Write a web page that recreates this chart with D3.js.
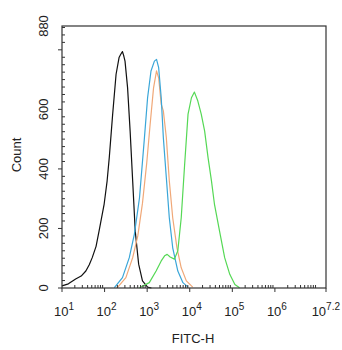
<!DOCTYPE html>
<html>
<head>
<meta charset="utf-8">
<script src="https://cdn.jsdelivr.net/npm/d3@7"></script>
<style>
  body { margin: 0; background: #fff; }
  text { font-family: "Liberation Sans", Arial, sans-serif; fill: #222; }
</style>
</head>
<body>
<svg id="svg" width="342" height="350"></svg>
<script>
// Histogram curves: x as log10(FITC-H), y as count
const blackX = [1.00, 1.15, 1.32, 1.45, 1.56, 1.64, 1.71, 1.80, 1.87, 1.99, 2.06, 2.11, 2.19, 2.27, 2.34, 2.38, 2.42, 2.45, 2.48, 2.54, 2.60, 2.66, 2.72, 2.80, 2.89, 3.01, 3.10];
const blackY = [7, 14, 30, 40, 57, 78, 102, 140, 191, 282, 360, 438, 584, 718, 774, 785, 794, 780, 762, 673, 527, 359, 191, 80, 24, 3, 0];

const blueX = [2.23, 2.42, 2.58, 2.70, 2.82, 2.93, 3.01, 3.09, 3.17, 3.22, 3.27, 3.33, 3.38, 3.45, 3.52, 3.60, 3.72, 3.84, 3.96];
const blueY = [1, 35, 102, 181, 303, 494, 639, 729, 762, 768, 740, 639, 505, 371, 236, 135, 57, 18, 3];

const orangeX = [2.30, 2.50, 2.66, 2.78, 2.89, 2.99, 3.07, 3.15, 3.22, 3.27, 3.33, 3.38, 3.45, 3.52, 3.60, 3.70, 3.80, 3.92, 4.07];
const orangeY = [1, 35, 102, 175, 285, 420, 550, 672, 729, 706, 617, 595, 505, 360, 236, 135, 68, 24, 3];

const greenX = [2.82, 3.05, 3.21, 3.33, 3.41, 3.47, 3.54, 3.64, 3.72, 3.80, 3.88, 3.96, 4.04, 4.11, 4.19, 4.27, 4.35, 4.43, 4.51, 4.58, 4.70, 4.82, 4.94, 5.06, 5.17];
const greenY = [1, 18, 57, 91, 108, 113, 104, 97, 125, 236, 415, 584, 639, 658, 628, 584, 527, 438, 360, 282, 191, 102, 46, 12, 1];

const series = [
  { name: "black", x: blackX, y: blackY, color: "#111111" },
  { name: "orange", x: orangeX, y: orangeY, color: "#f0a878" },
  { name: "blue", x: blueX, y: blueY, color: "#3aa6d8" },
  { name: "green", x: greenX, y: greenY, color: "#55d855" }
];

const xMajor = [1, 2, 3, 4, 5, 6, 7.2];
const xMajorLabels = [["10", "1"], ["10", "2"], ["10", "3"], ["10", "4"], ["10", "5"], ["10", "6"], ["10", "7.2"]];
const yMajor = [0, 200, 400, 600, 800];
const yLabels = [0, 200, 400, 600, 880];

// layout
const plotLeft = 62, plotRight = 326, plotTop = 26, plotBottom = 288;
const svg = d3.select("#svg");

const x = d3.scaleLog().domain([10, Math.pow(10, 7.2)]).range([plotLeft, plotRight]);
const y = d3.scaleLinear().domain([0, 880]).range([plotBottom, plotTop]);

// curves
const line = d3.line()
  .x(d => x(Math.pow(10, d[0])))
  .y(d => y(d[1]));

series.forEach(s => {
  svg.append("path")
    .datum(s.x.map((v, i) => [v, s.y[i]]))
    .attr("fill", "none")
    .attr("stroke", s.color)
    .attr("stroke-width", 1.2)
    .attr("stroke-linejoin", "round")
    .attr("d", line);
});

// frame
svg.append("rect")
  .attr("x", plotLeft).attr("y", plotTop)
  .attr("width", plotRight - plotLeft).attr("height", plotBottom - plotTop)
  .attr("fill", "none").attr("stroke", "#333").attr("stroke-width", 1.2);

// x minor ticks (inside) and major ticks (outside)
const xMinor = x.ticks().filter(v => {
  const l = Math.log10(v);
  return Math.abs(l - Math.round(l)) > 1e-6;
});
svg.selectAll(".xminor").data(xMinor).join("line")
  .attr("x1", d => x(d)).attr("x2", d => x(d))
  .attr("y1", plotBottom).attr("y2", plotBottom - 3)
  .attr("stroke", "#333");

svg.selectAll(".xmajor").data(xMajor).join("line")
  .attr("x1", d => x(Math.pow(10, d))).attr("x2", d => x(Math.pow(10, d)))
  .attr("y1", plotBottom).attr("y2", plotBottom + 4)
  .attr("stroke", "#333");

const xl = svg.selectAll(".xlab").data(xMajor).join("text")
  .attr("x", (d, i) => i === xMajor.length - 1 ? 340 : x(Math.pow(10, d)) + 2)
  .attr("y", 316)
  .attr("text-anchor", (d, i) => i === xMajor.length - 1 ? "end" : "middle")
  .style("font-size", "13px");
xl.append("tspan").text((d, i) => xMajorLabels[i][0]);
xl.append("tspan").attr("dy", -6).style("font-size", "10px").text((d, i) => xMajorLabels[i][1]);

svg.append("text")
  .attr("x", 193).attr("y", 343)
  .attr("text-anchor", "middle")
  .style("font-size", "13px")
  .text("FITC-H");

// y ticks
const yMinor = d3.range(0, 880, 25).filter(v => v % 200 !== 0);
svg.selectAll(".yminor").data(yMinor).join("line")
  .attr("x1", plotLeft).attr("x2", plotLeft + 3)
  .attr("y1", d => y(d)).attr("y2", d => y(d))
  .attr("stroke", "#333");

svg.selectAll(".ymajor").data(yMajor).join("line")
  .attr("x1", plotLeft).attr("x2", plotLeft - 4)
  .attr("y1", d => y(d)).attr("y2", d => y(d))
  .attr("stroke", "#333");

svg.selectAll(".ylab").data(yLabels).join("text")
  .attr("transform", d => `translate(48,${y(d)}) rotate(-90)`)
  .attr("text-anchor", "middle")
  .style("font-size", "13px")
  .text(d => d);

svg.append("text")
  .attr("transform", `translate(21,155) rotate(-90)`)
  .attr("text-anchor", "middle")
  .style("font-size", "13px")
  .text("Count");
</script>
</body>
</html>
